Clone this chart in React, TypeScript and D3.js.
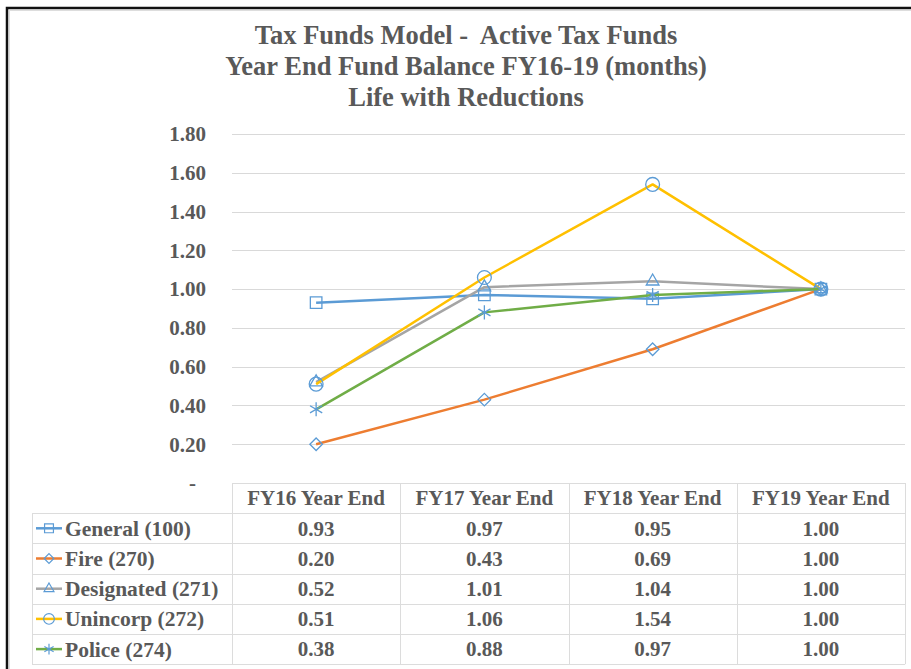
import { useEffect, useRef } from 'react';
import * as d3 from 'd3';

const categories = ['FY16 Year End', 'FY17 Year End', 'FY18 Year End', 'FY19 Year End'];
const seriesNames = ['General (100)', 'Fire (270)', 'Designated (271)', 'Unincorp (272)', 'Police (274)'];
const general = [0.93, 0.97, 0.95, 1.0];
const fire = [0.2, 0.43, 0.69, 1.0];
const designated = [0.52, 1.01, 1.04, 1.0];
const unincorp = [0.51, 1.06, 1.54, 1.0];
const police = [0.38, 0.88, 0.97, 1.0];
const yTicks = [0, 0.2, 0.4, 0.6, 0.8, 1.0, 1.2, 1.4, 1.6, 1.8];
const titleLines = ['Tax Funds Model -  Active Tax Funds', 'Year End Fund Balance FY16-19 (months)', 'Life with Reductions'];

const colors = ['#5B9BD5', '#ED7D31', '#A5A5A5', '#FFC000', '#70AD47'];
const markerColor = '#5B9BD5';
const textColor = '#595959';
const font = '"Liberation Serif", serif';

const App = () => {
    const svgRef = useRef<SVGSVGElement>(null);
    const W = 911;
    const H = 669;
    const plot = { left: 232, right: 905, top: 134, bottom: 483 };
    const legendLeft = 32;
    const rowH = 30.2;

    useEffect(() => {
        const svg = d3.select(svgRef.current);
        svg.selectAll('*').remove();

        const allSeries = [general, fire, designated, unincorp, police];
        const symbols = [
            d3.symbol().type(d3.symbolSquare2).size(170),
            d3.symbol().type(d3.symbolDiamond2).size(100),
            d3.symbol().type(d3.symbolTriangle2).size(115),
            d3.symbol().type(d3.symbolCircle).size(150),
            d3.symbol().type(d3.symbolAsterisk).size(140),
        ];
        const legendSymbols = [
            d3.symbol().type(d3.symbolSquare2).size(100),
            d3.symbol().type(d3.symbolDiamond2).size(60),
            d3.symbol().type(d3.symbolTriangle2).size(70),
            d3.symbol().type(d3.symbolCircle).size(90),
            d3.symbol().type(d3.symbolAsterisk).size(80),
        ];

        const x = d3.scalePoint<string>().domain(categories).range([plot.left, plot.right]).padding(0.5);
        const y = d3.scaleLinear().domain([0, 1.8]).range([plot.bottom, plot.top]);
        const colW = x.step();

        // frame
        svg.append('rect')
            .attr('x', 7).attr('y', 8).attr('width', W + 20).attr('height', H + 20)
            .attr('fill', 'white').attr('stroke', '#111').attr('stroke-width', 2.5);
        svg.append('rect')
            .attr('x', 9.5).attr('y', 10.5).attr('width', W + 20).attr('height', H + 20)
            .attr('fill', 'none').attr('stroke', '#ddd').attr('stroke-width', 1);

        // title
        svg.append('g').selectAll('text').data(titleLines).join('text')
            .attr('x', 466).attr('y', (d, i) => 44 + i * 31)
            .attr('text-anchor', 'middle')
            .style('white-space', 'pre')
            .attr('font-family', font).attr('font-weight', 'bold').attr('font-size', 26.5)
            .attr('fill', textColor)
            .text(d => d);

        // gridlines
        svg.append('g').selectAll('line').data(yTicks.filter(t => t > 0)).join('line')
            .attr('x1', plot.left).attr('x2', plot.right)
            .attr('y1', d => Math.round(y(d)) + 0.5).attr('y2', d => Math.round(y(d)) + 0.5)
            .attr('stroke', '#D9D9D9').attr('stroke-width', 1);

        // y tick labels
        svg.append('g').selectAll('text').data(yTicks).join('text')
            .attr('x', d => (d === 0 ? 196 : 206)).attr('y', d => y(d))
            .attr('dy', '0.35em')
            .attr('text-anchor', 'end')
            .attr('font-family', font).attr('font-weight', 'bold').attr('font-size', 21)
            .attr('fill', textColor)
            .text(d => (d === 0 ? '-' : d3.format('.2f')(d)));

        // series
        const line = d3.line<number>().x((d, i) => x(categories[i]) as number).y(d => y(d));
        allSeries.forEach((vals, si) => {
            const g = svg.append('g');
            g.append('path').datum(vals).attr('d', line)
                .attr('fill', 'none').attr('stroke', colors[si]).attr('stroke-width', 2.5)
                .attr('stroke-linejoin', 'round');
            g.selectAll('path.m').data(vals).join('path').attr('class', 'm')
                .attr('d', symbols[si]())
                .attr('transform', (d, i) => `translate(${x(categories[i])},${y(d)})`)
                .attr('fill', 'none').attr('stroke', markerColor).attr('stroke-width', 1.3);
        });

        // data table
        const table = svg.append('g');
        const gridColor = '#DCDCDC';
        const top = plot.bottom;
        const headerBottom = top + rowH;
        const tableBottom = headerBottom + rowH * seriesNames.length;
        table.append('line').attr('x1', plot.left).attr('x2', plot.right)
            .attr('y1', top + 0.5).attr('y2', top + 0.5).attr('stroke', gridColor);
        d3.range(seriesNames.length + 1).forEach(i => {
            const yy = Math.round(headerBottom + i * rowH) + 0.5;
            table.append('line').attr('x1', legendLeft).attr('x2', plot.right)
                .attr('y1', yy).attr('y2', yy).attr('stroke', gridColor);
        });
        table.append('line').attr('x1', legendLeft + 0.5).attr('x2', legendLeft + 0.5)
            .attr('y1', headerBottom).attr('y2', tableBottom).attr('stroke', gridColor);
        d3.range(categories.length + 1).forEach(i => {
            const xx = Math.round(plot.left + i * colW) + 0.5;
            table.append('line').attr('x1', xx).attr('x2', xx)
                .attr('y1', top).attr('y2', tableBottom).attr('stroke', gridColor);
        });

        const txt = (sel: any) => sel.attr('font-family', font).attr('font-weight', 'bold')
            .attr('font-size', 21).attr('fill', textColor).attr('dy', '0.35em');

        table.append('g').selectAll('text').data(categories).join('text')
            .attr('x', d => x(d) as number).attr('y', top + rowH / 2)
            .attr('text-anchor', 'middle').call(txt).text(d => d);

        allSeries.forEach((vals, si) => {
            const cy = headerBottom + rowH * si + rowH / 2;
            table.append('line').attr('x1', 36).attr('x2', 62).attr('y1', cy).attr('y2', cy)
                .attr('stroke', colors[si]).attr('stroke-width', 2.5);
            table.append('path').attr('d', legendSymbols[si]())
                .attr('transform', `translate(49,${cy})`)
                .attr('fill', 'none').attr('stroke', markerColor).attr('stroke-width', 1.2);
            table.append('text').attr('x', 65).attr('y', cy).call(txt)
                .attr('font-size', 21.5).text(seriesNames[si]);
            table.append('g').selectAll('text').data(vals).join('text')
                .attr('x', (d, i) => x(categories[i]) as number).attr('y', cy)
                .attr('text-anchor', 'middle').call(txt)
                .text(d => d3.format('.2f')(d));
        });
    }, []);

    return (
        <svg ref={svgRef} width={W} height={H}
            style={{ position: 'absolute', left: 0, top: 0, background: 'white' }}></svg>
    );
};

export default App;
